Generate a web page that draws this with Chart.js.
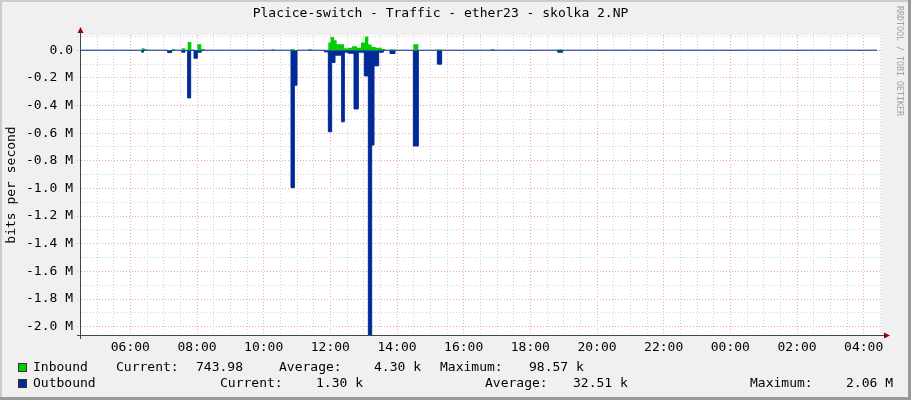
<!DOCTYPE html>
<html>
<head>
<meta charset="utf-8">
<title>Placice-switch - Traffic - ether23 - skolka 2.NP</title>
<script src="https://cdn.jsdelivr.net/npm/chart.js@4.4.1/dist/chart.umd.min.js"></script>
<style>
  html, body { margin: 0; padding: 0; background: #f0f0f0; }
  #wrap { width: 911px; height: 400px; }
</style>
</head>
<body>
<div id="wrap"><canvas id="traffic" width="911" height="400"></canvas></div>
<script>
// Time in hours from midnight of the first day (values over 24 are the next day).
// Traffic in bits per second. Each value holds until the next time (RRD steps).
const inTimes = [4.52, 6.34, 6.43, 6.51, 7.24, 7.34, 7.54, 7.64, 7.72, 7.83, 8.01, 8.13, 8.24,
  10.24, 10.32, 10.82, 10.93, 11.34, 11.44, 11.82, 11.94, 12.01, 12.11, 12.19, 12.41, 12.54,
  12.65, 12.80, 12.92, 13.04, 13.14, 13.24, 13.36, 13.54, 13.64, 13.79, 13.94, 14.49, 14.64,
  15.21, 15.34, 16.82, 16.92, 18.82, 18.97, 28.40];
const inValues = [0, 14000, 7000, 0, 7000, 0, 14000, 0, 60000, 4000, 43000, 7000, 0,
  7000, 0, 9000, 0, 7000, 0, 4000, 55000, 96000, 72000, 43000, 14000, 17000,
  29000, 17000, 55000, 98570, 41000, 24000, 17000, 9000, 0, 7000, 0, 43000, 0,
  7000, 0, 7000, 0, 7000, 0, 744];

const outTimes = [4.52, 6.34, 6.39, 7.12, 7.24, 7.54, 7.64, 7.72, 7.81, 7.91, 8.01, 8.13,
  10.82, 10.92, 11.00, 11.82, 11.94, 12.04, 12.14, 12.34, 12.42, 12.54, 12.71, 12.84,
  13.02, 13.14, 13.24, 13.31, 13.45, 13.59, 13.79, 13.94, 14.49, 14.64, 15.21, 15.34,
  18.82, 18.97, 28.40];
const outValues = [0, -14000, 0, -17000, 0, -14000, 0, -345000, 0, -58000, -14000, 0,
  -994000, -253000, 0, -12000, -590000, -89000, -36000, -518000, -14000, -22000, -425000, -14000,
  -186000, -2060000, -686000, -113000, -14000, 0, -24000, 0, -693000, 0, -101000, 0,
  -14000, 0, -1300];

// legend figures: current, average, maximum
const inStats = ['743.98', '4.30 k', '98.57 k'];
const outStats = ['1.30 k', '32.51 k', '2.06 M'];

const xStart = 4.52, xEnd = 28.52;
const yMin = -2.06e6, yMax = 0.11e6;

const GREEN = '#00CF00';
const BLUE = '#002A97';
const GRID = '#d2d2d2';
const MGRID = '#f3a3a3';
const FONT = '"DejaVu Sans Mono", monospace';

const toPoints = (ts, vs) => ts.map((t, i) => ({ x: t, y: vs[i] }));

const rrdFrame = {
  id: 'rrdFrame',
  beforeDraw(chart) {
    const { ctx, chartArea: a, width, height } = chart;
    ctx.save();
    ctx.fillStyle = '#f0f0f0';
    ctx.fillRect(0, 0, width, height);
    ctx.fillStyle = '#cbcbcb';
    ctx.fillRect(0, 0, width, 2);
    ctx.fillRect(0, 0, 2, height);
    ctx.fillStyle = '#999999';
    ctx.fillRect(width - 3, 0, 3, height);
    ctx.fillRect(0, height - 3, width, 3);
    ctx.fillStyle = '#ffffff';
    ctx.fillRect(a.left, a.top, a.right - a.left, a.bottom - a.top);
    ctx.restore();
  },
  afterDraw(chart) {
    const { ctx, chartArea: a } = chart;
    ctx.save();
    // axes
    ctx.strokeStyle = '#3a4a45';
    ctx.lineWidth = 1;
    ctx.beginPath();
    ctx.moveTo(a.left - 4, a.bottom + 0.5);
    ctx.lineTo(a.right + 4, a.bottom + 0.5);
    ctx.moveTo(a.left - 0.5, a.top - 2);
    ctx.lineTo(a.left - 0.5, a.bottom + 4);
    ctx.stroke();
    // arrows
    ctx.fillStyle = '#9b0000';
    ctx.beginPath();
    ctx.moveTo(a.left - 0.5, a.top - 8);
    ctx.lineTo(a.left - 3.5, a.top - 2);
    ctx.lineTo(a.left + 2.5, a.top - 2);
    ctx.fill();
    ctx.beginPath();
    ctx.moveTo(a.right + 9, a.bottom + 0.5);
    ctx.lineTo(a.right + 3, a.bottom - 2.5);
    ctx.lineTo(a.right + 3, a.bottom + 3.5);
    ctx.fill();

    // watermark
    ctx.save();
    ctx.translate(899, 6);
    ctx.rotate(Math.PI / 2);
    ctx.font = '8.3px ' + FONT;
    ctx.fillStyle = '#a0a0a0';
    ctx.textBaseline = 'middle';
    ctx.fillText('RRDTOOL / TOBI OETIKER', 0, 0);
    ctx.restore();

    // legend
    ctx.font = '13px ' + FONT;
    ctx.fillStyle = '#000';
    ctx.textBaseline = 'middle';
    const rows = [
      { y: 368, color: GREEN, items: [[33, 'Inbound'], [116, 'Current:'], [196, inStats[0]],
        [279, 'Average:'], [374, inStats[1]], [440, 'Maximum:'], [529, inStats[2]]] },
      { y: 384, color: BLUE, items: [[33, 'Outbound'], [220, 'Current:'], [316, outStats[0]],
        [485, 'Average:'], [573, outStats[1]], [750, 'Maximum:'], [846, outStats[2]]] }
    ];
    rows.forEach(r => {
      ctx.fillStyle = r.color;
      ctx.fillRect(18, r.y - 5, 9, 9);
      ctx.strokeStyle = '#333';
      ctx.strokeRect(18.5, r.y - 4.5, 8, 8);
      ctx.fillStyle = '#000';
      r.items.forEach(([x, s]) => ctx.fillText(s, x, r.y));
    });
    ctx.restore();
  }
};

new Chart(document.getElementById('traffic'), {
  type: 'line',
  data: {
    datasets: [
      {
        label: 'Outbound',
        data: toPoints(outTimes, outValues),
        borderColor: BLUE,
        backgroundColor: BLUE,
        borderWidth: 1,
        fill: 'origin',
        stepped: true,
        pointRadius: 0,
        order: 0
      },
      {
        label: 'Inbound',
        data: toPoints(inTimes, inValues),
        borderColor: GREEN,
        backgroundColor: GREEN,
        borderWidth: 0,
        fill: 'origin',
        stepped: true,
        pointRadius: 0,
        order: 1
      }
    ]
  },
  options: {
    responsive: false,
    animation: false,
    devicePixelRatio: 1,
    layout: { padding: { left: 0, right: 30, top: 0, bottom: 0 } },
    plugins: {
      legend: { display: false },
      tooltip: { enabled: false },
      title: {
        display: true,
        text: 'Placice-switch - Traffic - ether23 - skolka 2.NP',
        color: '#000',
        font: { family: FONT, size: 13, weight: 'normal' },
        padding: { top: 6, bottom: 13.4 }
      }
    },
    scales: {
      x: {
        type: 'linear',
        min: xStart,
        max: xEnd,
        afterBuildTicks: s => {
          const t = [];
          for (let h = Math.ceil(xStart * 2) / 2; h <= xEnd; h += 0.5) t.push({ value: h });
          s.ticks = t;
        },
        afterFit: s => { s.height = 65; },
        grid: {
          color: c => (c.tick && Math.round(c.tick.value * 2) % 4 === 0) ? MGRID : GRID,
          drawTicks: false,
          lineWidth: 1
        },
        border: { display: false, dash: [1, 2] },
        ticks: {
          autoSkip: false,
          maxRotation: 0,
          padding: 5,
          color: '#000',
          font: { family: FONT, size: 13 },
          callback: v => Math.round(v * 2) % 4 === 0
            ? String(Math.round(v) % 24).padStart(2, '0') + ':00' : ''
        }
      },
      y: {
        min: yMin,
        max: yMax,
        afterBuildTicks: s => {
          const t = [];
          for (let k = 1; k >= -20; k--) t.push({ value: k * 1e5 });
          s.ticks = t;
        },
        afterFit: s => { s.width = 81; },
        grid: {
          color: c => (c.tick && Math.round(c.tick.value / 1e5) % 2 === 0) ? MGRID : GRID,
          drawTicks: true,
          tickLength: 4,
          tickBorderDash: [1, 2],
          lineWidth: 1
        },
        border: { display: false, dash: [1, 2] },
        title: {
          display: true,
          text: 'bits per second',
          color: '#000',
          font: { family: FONT, size: 13 },
          padding: { top: 4, bottom: 0 }
        },
        ticks: {
          autoSkip: false,
          padding: 4,
          color: '#000',
          font: { family: FONT, size: 13 },
          callback: v => {
            const k = Math.round(v / 1e5);
            if (k % 2 !== 0) return '';
            if (k === 0) return '0.0';
            return (v / 1e6).toFixed(1) + ' M';
          }
        }
      }
    }
  },
  plugins: [rrdFrame]
});
</script>
</body>
</html>
